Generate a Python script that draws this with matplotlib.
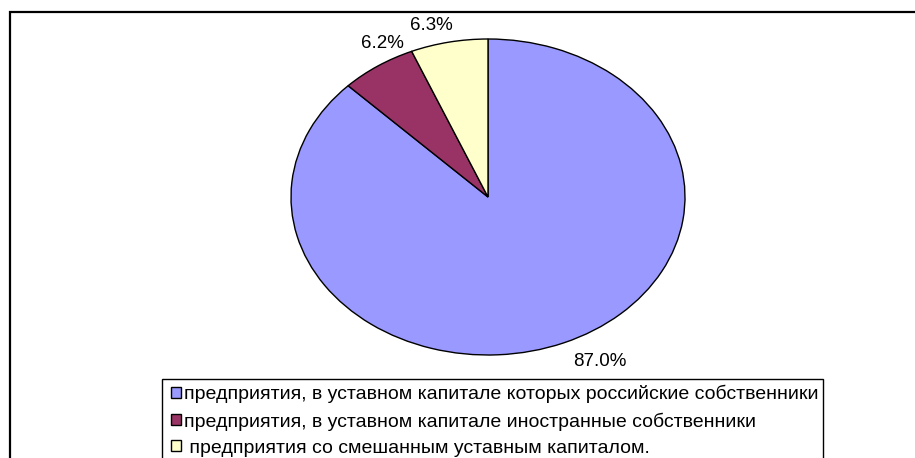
import numpy as np
import matplotlib.pyplot as plt
from matplotlib.patches import Rectangle

plt.rcParams['font.family'] = ['Liberation Sans', 'DejaVu Sans']

# --- данные ---
kategorii = [
    'предприятия, в уставном капитале которых российские собственники',
    'предприятия, в уставном капитале иностранные собственники',
    ' предприятия со смешанным уставным капиталом.',
]
doli = [87.0, 6.2, 6.3]
cveta = ['#9999FF', '#993366', '#FFFFCC']

W, H = 915, 458
fig = plt.figure(figsize=(W / 100, H / 100), dpi=100)

# рамка вокруг диаграммы (правый и нижний край обрезаны)
fig.patches.append(Rectangle((10 / W, -0.1), 1.2, 1 - 12 / H + 0.1,
                             transform=fig.transFigure, fill=False,
                             edgecolor='black', linewidth=1.6))
# рамка легенды
fig.patches.append(Rectangle((162 / W, -0.1), (823 - 162) / W, 1 - 379 / H + 0.1,
                             transform=fig.transFigure, fill=False,
                             edgecolor='black', linewidth=1.0))

# эллипс: центр (488,197), полуоси 197 x 158 px
ax = fig.add_axes([291 / W, 1 - 355 / H, 394 / W, 316 / H])
wedges, texts = ax.pie(doli, colors=cveta, startangle=90, counterclock=False,
                       labels=[f'{d:.1f}%' for d in doli],
                       wedgeprops=dict(edgecolor='black', linewidth=1.0),
                       textprops=dict(fontsize=13.5, color='black'))
ax.set_aspect('auto')
ax.set_xlim(-1, 1)
ax.set_ylim(-1, 1)
ax.axis('off')

# подписи долей как в Excel
otstup_x = [1.47, 0.96, 1.45]
otstup_y = [1.13, 1.17, 1.11]
for w, t, fx, fy in zip(wedges, texts, otstup_x, otstup_y):
    a = np.deg2rad((w.theta1 + w.theta2) / 2)
    t.set_position((fx * np.cos(a), fy * np.sin(a)))
    t.set_ha('center')
    t.set_va('center')

leg = fig.legend(wedges, kategorii, loc='upper left',
                 bbox_to_anchor=(167 / W, 1 - 381 / H),
                 fontsize=14, frameon=False,
                 handlelength=0.51, handleheight=0.51,
                 handletextpad=0.15, labelspacing=0.47, borderpad=0.2,
                 borderaxespad=0)
for h in leg.legend_handles:
    h.set_linewidth(1.0)

fig.savefig('out.png', dpi=100)
